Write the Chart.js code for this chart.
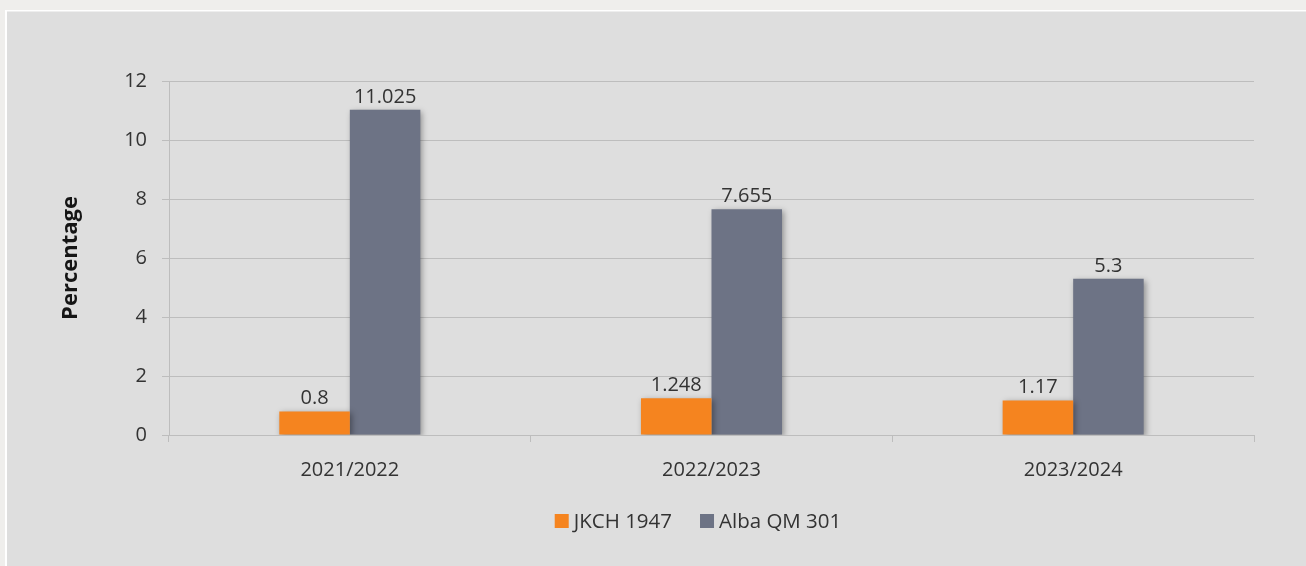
<!DOCTYPE html>
<html lang="en">
<head>
<meta charset="UTF-8">
<title>Percentage by season</title>
<script src="https://cdn.jsdelivr.net/npm/chart.js"></script>
<style>
    html, body { margin: 0; padding: 0; background: #efeeec; }
    canvas { display: block; }
</style>
</head>
<body>
<canvas id="seasonChart" width="1306" height="566"></canvas>
<script>
// seasons and series values
var seasons = ['2021/2022', '2022/2023', '2023/2024'];
var seriesNames = ['JKCH 1947', 'Alba QM 301'];
var jkchValues = [0.8, 1.248, 1.17];
var albaValues = [11.025, 7.655, 5.3];
var yTicks = [0, 2, 4, 6, 8, 10, 12];

var orange = '#f5841f';
var slate = '#6d7385';
var gridColor = '#bdbdbd';
var textColor = '#333333';
var fontFamily = '"Open Sans", "Noto Sans", sans-serif';

// grey panel behind the chart
var panelPlugin = {
    id: 'panel',
    beforeDraw: function (chart) {
        var ctx = chart.ctx;
        ctx.save();
        ctx.fillStyle = '#efeeec';
        ctx.fillRect(0, 0, chart.width, chart.height);
        ctx.fillStyle = '#ffffff';
        ctx.fillRect(5, 10, chart.width - 5, chart.height - 10);
        ctx.fillStyle = '#dedede';
        ctx.fillRect(7, 11.5, chart.width - 7, chart.height - 11.5);
        ctx.restore();
    }
};

// soft drop shadow under the bars
var shadowPlugin = {
    id: 'barShadow',
    beforeDatasetsDraw: function (chart) {
        var ctx = chart.ctx;
        ctx.save();
        ctx.shadowColor = 'rgba(0, 0, 0, 0.35)';
        ctx.shadowBlur = 6;
        ctx.shadowOffsetX = 2;
        ctx.shadowOffsetY = 2;
    },
    afterDatasetsDraw: function (chart) {
        chart.ctx.restore();
    }
};

// value printed above every bar
var valueLabelPlugin = {
    id: 'valueLabels',
    afterDatasetsDraw: function (chart) {
        var ctx = chart.ctx;
        ctx.save();
        ctx.font = '20px ' + fontFamily;
        ctx.fillStyle = textColor;
        ctx.textAlign = 'center';
        ctx.textBaseline = 'alphabetic';
        chart.data.datasets.forEach(function (ds, i) {
            chart.getDatasetMeta(i).data.forEach(function (bar, j) {
                ctx.fillText(String(ds.data[j]), bar.x, bar.y - 7);
            });
        });
        ctx.restore();
    }
};

// legend row under the axis
var legendPlugin = {
    id: 'bottomLegend',
    afterDraw: function (chart) {
        var ctx = chart.ctx;
        var box = 14, gap = 5, spacing = 28, centerX = 698, centerY = 521;
        ctx.save();
        ctx.font = '20.5px ' + fontFamily;
        ctx.textBaseline = 'middle';
        var items = chart.data.datasets.map(function (ds) {
            return { label: ds.label, color: ds.backgroundColor, w: ctx.measureText(ds.label).width };
        });
        var total = 0;
        items.forEach(function (it, i) {
            total += box + gap + it.w + (i < items.length - 1 ? spacing : 0);
        });
        var x = centerX - total / 2;
        items.forEach(function (it) {
            ctx.fillStyle = it.color;
            ctx.fillRect(x, centerY - box / 2, box, box);
            ctx.fillStyle = textColor;
            ctx.fillText(it.label, x + box + gap, centerY + 1);
            x += box + gap + it.w + spacing;
        });
        ctx.restore();
    }
};

var ctx = document.getElementById('seasonChart').getContext('2d');
var seasonChart = new Chart(ctx, {
    type: 'bar',
    data: {
        labels: seasons,
        datasets: [
            { label: seriesNames[0], data: jkchValues, backgroundColor: orange },
            { label: seriesNames[1], data: albaValues, backgroundColor: slate }
        ]
    },
    options: {
        responsive: false,
        animation: false,
        layout: { padding: { top: 81, right: 52, bottom: 0, left: 0 } },
        datasets: { bar: { categoryPercentage: 0.39, barPercentage: 1 } },
        plugins: {
            legend: { display: false },
            tooltip: { enabled: false }
        },
        scales: {
            x: {
                grid: { drawOnChartArea: false, drawTicks: true, tickLength: 7, color: gridColor },
                border: { color: gridColor },
                ticks: { color: textColor, font: { family: fontFamily, size: 20 }, padding: 16 },
                afterFit: function (scale) { scale.height = 131; }
            },
            y: {
                min: 0,
                max: 12,
                afterBuildTicks: function (scale) {
                    scale.ticks = yTicks.map(function (v) { return { value: v }; });
                },
                grid: { color: gridColor, tickLength: 7 },
                border: { color: gridColor },
                ticks: { color: textColor, font: { family: fontFamily, size: 20 }, padding: 15 },
                title: {
                    display: true,
                    text: 'Percentage',
                    color: '#151515',
                    font: { family: fontFamily, size: 22, weight: 'bold' },
                    padding: { top: 58, bottom: 0 }
                },
                afterFit: function (scale) { scale.width = 169; }
            }
        }
    },
    plugins: [panelPlugin, shadowPlugin, valueLabelPlugin, legendPlugin]
});
</script>
</body>
</html>
